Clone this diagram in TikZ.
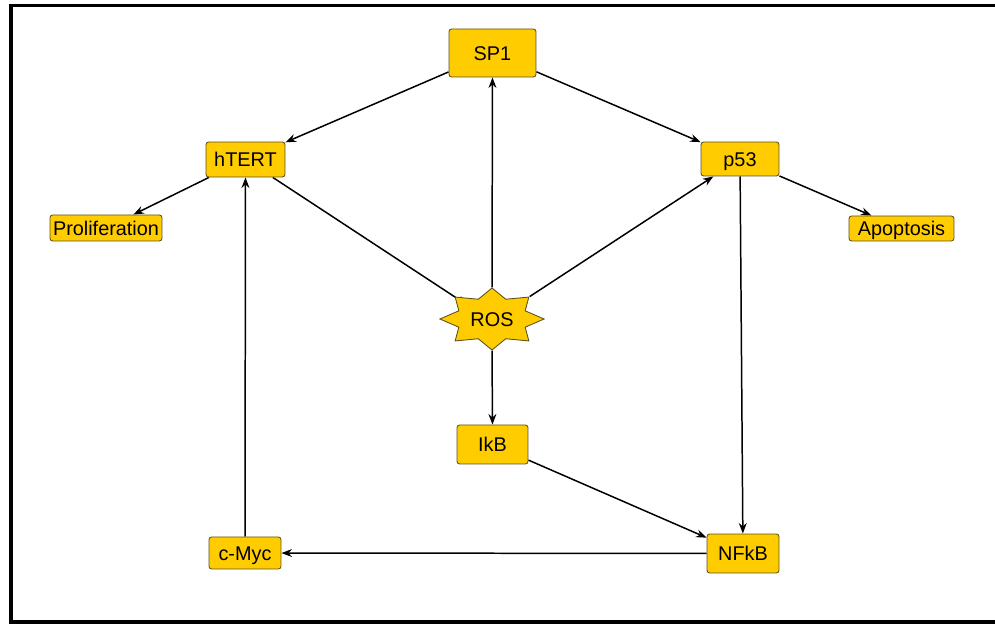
\documentclass[tikz,border=0pt]{standalone}
\usepackage{fontspec}
\setmainfont{Liberation Sans}
\usepackage{tikz}
\usetikzlibrary{arrows.meta,shapes.geometric,backgrounds}
\definecolor{genefill}{RGB}{255,204,0}
\definecolor{geneline}{RGB}{95,80,30}

\begin{document}
\begin{tikzpicture}[
  x=0.02cm, y=-0.02cm,
  >={Stealth[length=6pt,width=4.5pt]},
  every node/.style={font=\fontsize{11.3}{13}\selectfont},
  gene/.style={rectangle, draw=geneline, fill=genefill, rounded corners=1.5pt,
    line width=0.5pt, inner sep=1pt, align=center,
    text height=8pt, text depth=0pt},
  rosstar/.style={star, star points=8, star point ratio=1.45, draw=geneline,
    fill=genefill, line width=0.5pt, minimum size=1.24cm, inner sep=0pt,
    transform shape},
  link/.style={->, line width=0.85pt},
  frame/.style={line width=2pt},
]
\useasboundingbox (0,0) rectangle (995,624);

% frame
\draw[frame] (997,5.5) -- (11,5.5) -- (11,622) -- (997,622);

% top row
\node[gene, minimum width=1.74cm, minimum height=0.96cm] at (492.5,53) (sp1) {SP1};
\node[gene, minimum width=1.58cm, minimum height=0.70cm] at (245.5,159.5) (htert) {hTERT};
\node[gene, minimum width=1.56cm, minimum height=0.68cm] at (740,159) (p53) {p53};

% outputs
\node[gene, minimum width=2.24cm, minimum height=0.52cm] at (106,228) (prolif) {Proliferation};
\node[gene, minimum width=2.10cm, minimum height=0.50cm] at (901.5,228.5) (apop) {Apoptosis};

% ROS
\begin{scope}[shift={(492,319)}, xscale=1.68]
  \node[rosstar] at (0,0) (rosshape) {};
\end{scope}
\node[text height=8pt, text depth=0pt] at (rosshape) (ros) {ROS};

% lower row
\node[gene, minimum width=1.42cm, minimum height=0.78cm] at (492.5,444.5) (ikb) {IkB};
\node[gene, minimum width=1.44cm, minimum height=0.64cm] at (245,553) (cmyc) {c-Myc};
\node[gene, minimum width=1.44cm, minimum height=0.78cm] at (743,553.5) (nfkb) {NFkB};

% connectors
\begin{scope}[on background layer]
\draw[link] (sp1) -- (htert);
\draw[link] (sp1) -- (p53);
\draw[link] (rosshape.90) -- (sp1.south);
\draw[link] (htert) -- (prolif);
\draw[link] (p53) -- (apop);
\draw[link, shorten >=-9pt] (htert) -- (rosshape.135);
\draw[link] (rosshape.45) -- (p53);
\draw[link] (p53) -- (nfkb);
\draw[link] (rosshape.270) -- (ikb.north);
\draw[link] (ikb) -- (nfkb);
\draw[link] (nfkb) -- (cmyc);
\draw[link] (cmyc) -- (htert);
\end{scope}

\end{tikzpicture}
\end{document}
